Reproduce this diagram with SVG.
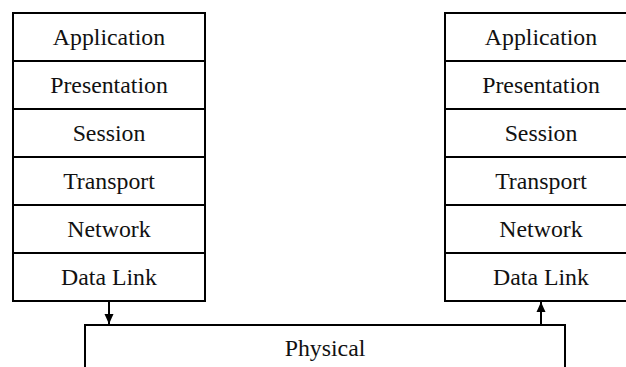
<svg xmlns="http://www.w3.org/2000/svg" width="626" height="367" viewBox="0 0 626 367">
  <style>
    .box { fill: #fff; stroke: #000; stroke-width: 2; }
    .lbl { font-family: "Liberation Serif", "Times New Roman", serif; font-size: 23.8px; fill: #111; text-anchor: middle; }
    .wire { stroke: #000; stroke-width: 2; fill: none; }
  </style>
  <defs>
    <marker id="head" viewBox="0 0 10 10" refX="10" refY="5" markerWidth="10" markerHeight="10" markerUnits="userSpaceOnUse" orient="auto">
      <path d="M0,0.5 L10,5 L0,9.5 Z" fill="#000"/>
    </marker>
  </defs>
  <rect width="626" height="367" fill="#fff"/>

  <!-- left host stack -->
  <g id="left-stack">
    <g id="l-app"><rect class="box" x="13" y="13" width="192" height="48"/><text class="lbl" x="109" y="45">Application</text></g>
    <g id="l-pres"><rect class="box" x="13" y="61" width="192" height="48"/><text class="lbl" x="109" y="93">Presentation</text></g>
    <g id="l-sess"><rect class="box" x="13" y="109" width="192" height="48"/><text class="lbl" x="109" y="141">Session</text></g>
    <g id="l-trans"><rect class="box" x="13" y="157" width="192" height="48"/><text class="lbl" x="109" y="189">Transport</text></g>
    <g id="l-net"><rect class="box" x="13" y="205" width="192" height="48"/><text class="lbl" x="109" y="237">Network</text></g>
    <g id="l-dl"><rect class="box" x="13" y="253" width="192" height="48"/><text class="lbl" x="109" y="285">Data Link</text></g>
  </g>

  <!-- right host stack -->
  <g id="right-stack">
    <g id="r-app"><rect class="box" x="445" y="13" width="192" height="48"/><text class="lbl" x="541" y="45">Application</text></g>
    <g id="r-pres"><rect class="box" x="445" y="61" width="192" height="48"/><text class="lbl" x="541" y="93">Presentation</text></g>
    <g id="r-sess"><rect class="box" x="445" y="109" width="192" height="48"/><text class="lbl" x="541" y="141">Session</text></g>
    <g id="r-trans"><rect class="box" x="445" y="157" width="192" height="48"/><text class="lbl" x="541" y="189">Transport</text></g>
    <g id="r-net"><rect class="box" x="445" y="205" width="192" height="48"/><text class="lbl" x="541" y="237">Network</text></g>
    <g id="r-dl"><rect class="box" x="445" y="253" width="192" height="48"/><text class="lbl" x="541" y="285">Data Link</text></g>
  </g>

  <!-- shared physical medium -->
  <g id="physical">
    <path class="wire" d="M85,380 L85,325 L565,325 L565,380"/>
    <text class="lbl" x="325" y="356">Physical</text>
  </g>

  <g id="connectors">
    <line class="wire" x1="109" y1="302" x2="109" y2="324" marker-end="url(#head)"/>
    <line class="wire" x1="541" y1="324" x2="541" y2="302" marker-end="url(#head)"/>
  </g>
</svg>
